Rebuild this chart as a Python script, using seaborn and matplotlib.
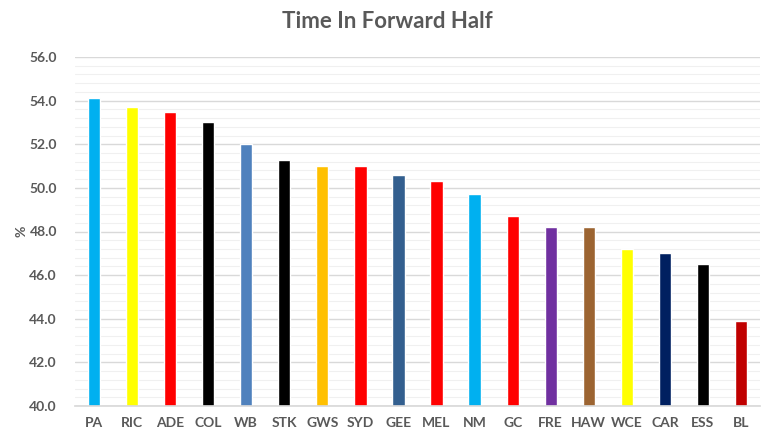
import matplotlib
matplotlib.use("Agg")
import matplotlib.pyplot as plt
import seaborn as sns
import pandas as pd
from matplotlib.ticker import MultipleLocator

teams = ["PA", "RIC", "ADE", "COL", "WB", "STK", "GWS", "SYD", "GEE", "MEL",
         "NM", "GC", "FRE", "HAW", "WCE", "CAR", "ESS", "BL"]
values = [54.1, 53.7, 53.5, 53.0, 52.0, 51.3, 51.0, 51.0, 50.6, 50.3,
          49.7, 48.7, 48.2, 48.2, 47.2, 47.0, 46.5, 43.9]
colors = ["#00B0F0", "#FFFF00", "#FF0000", "#000000", "#4F81BD", "#000000",
          "#FFC000", "#FF0000", "#335F8F", "#FF0000", "#00B0F0", "#FF0000",
          "#7030A0", "#9C6431", "#FFFF00", "#002060", "#000000", "#C00000"]

sns.set_theme(style="white")
plt.rcParams['font.family'] = ['Lato', 'DejaVu Sans']

df = pd.DataFrame({"team": teams, "value": values})

fig = plt.figure(figsize=(7.76, 4.37), dpi=100)
ax = fig.add_axes([75/776, 1 - 406/437, 685/776, (406-57)/437])

sns.barplot(data=df, x="team", y="value", hue="team", palette=colors,
            legend=False, width=0.32, ax=ax, saturation=1)

ax.set_ylim(40, 56)
ax.yaxis.set_major_locator(MultipleLocator(2))
ax.yaxis.set_minor_locator(MultipleLocator(0.4))
ax.yaxis.set_major_formatter(matplotlib.ticker.FormatStrFormatter("%.1f"))
ax.grid(axis="y", which="major", color="#D9D9D9", linewidth=1.0)
ax.grid(axis="y", which="minor", color="#F0F0F0", linewidth=0.8)
ax.set_axisbelow(True)
for s in ["top", "right", "left"]:
    ax.spines[s].set_visible(False)
ax.spines["bottom"].set_color("#D9D9D9")
ax.tick_params(axis="both", which="both", length=0, colors="#595959", labelsize=10)
ax.tick_params(axis="y", pad=13)
ax.tick_params(axis="x", pad=8)
for lbl in ax.get_xticklabels() + ax.get_yticklabels():
    lbl.set_fontweight("bold")
ax.set_xlabel("")
ax.set_ylabel("%", color="#595959", fontsize=10, fontweight="bold")
ax.yaxis.set_label_coords((28 - 75) / 685, 0.5)

fig.text(387/776, 1 - 22/437, "Time In Forward Half", ha="center", va="center",
         fontsize=16, fontweight="bold", color="#595959")

fig.savefig("out.png", dpi=100)
